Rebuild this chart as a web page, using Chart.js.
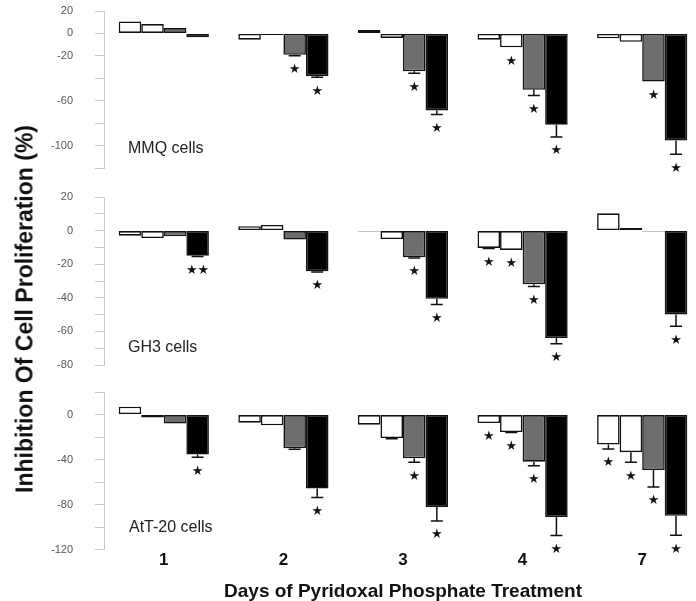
<!DOCTYPE html>
<html><head><meta charset="utf-8">
<script src="https://cdn.jsdelivr.net/npm/chart.js@4.4.1/dist/chart.umd.min.js"></script>
<style>
html,body{margin:0;padding:0;background:#fff;overflow:hidden;width:696px;height:601px;}
#wrap{position:relative;width:696px;height:601px;overflow:hidden;}
.pc{position:absolute;left:0;width:702px;}
.lbl{position:absolute;font-family:"Liberation Sans",Arial,sans-serif;font-size:16px;line-height:16px;color:#222;white-space:nowrap;}
#ytitle{position:absolute;left:25px;top:309px;transform:translate(-50%,-50%) rotate(-90deg);font:bold 23px "Liberation Sans",Arial,sans-serif;white-space:nowrap;color:#111;}
</style></head>
<body><div id="wrap">
<div class="pc" style="top:0;height:178px"><canvas id="c1" width="702" height="178"></canvas></div>
<div class="pc" style="top:185px;height:190px"><canvas id="c2" width="702" height="190"></canvas></div>
<div class="pc" style="top:380px;height:226px"><canvas id="c3" width="702" height="226"></canvas></div>
<div class="lbl" style="left:128px;top:140px">MMQ cells</div>
<div class="lbl" style="left:128px;top:339px">GH3 cells</div>
<div class="lbl" style="left:129px;top:519px">AtT-20 cells</div>
<div id="ytitle">Inhibition Of Cell Proliferation (%)</div>
</div>
<script>
// Categories
const days = ['1', '2', '3', '4', '7'];
const xTitle = 'Days of Pyridoxal Phosphate Treatment';

// MMQ cells: four series per day (white, white, gray, black)
const mmqA = [10.7, -5.6, 3, -5.6, -4.4];
const mmqB = [8.3, -1.5, -4, -12.4, -7.4];
const mmqC = [4.8, -19, -33.8, -50.3, -42.9];
const mmqD = [-3.5, -38, -68.7, -81.4, -95.4];
const mmqErrA = [0, 0, 0, 0, 0];
const mmqErrB = [0, 0, 0, 0, 0];
const mmqErrC = [0, 0.8, 1.8, 5.1, 0];
const mmqErrD = [0, 1, 3.6, 11, 12.4];
const mmqSigA = [0, 0, 0, 0, 0];
const mmqSigB = [0, 0, 0, 1, 0];
const mmqSigC = [0, 1, 1, 1, 1];
const mmqSigD = [0, 1, 1, 1, 1];
const mmqTicks = [20, 0, -20, -60, -100];

// GH3 cells
const gh3A = [-3, 2.6, -0.5, -10.3, 10.3];
const gh3B = [-4.4, 3.4, -5, -11.5, 1.6];
const gh3C = [-3.4, -5.3, -15.8, -32, -0.5];
const gh3D = [-14.9, -24.2, -40.6, -64, -49.9];
const gh3ErrA = [0, 0, 0, 0.3, 0];
const gh3ErrB = [0, 0, 0, 0, 0];
const gh3ErrC = [0, 0, 0.5, 1.2, 0];
const gh3ErrD = [0.5, 0.5, 3.4, 3.4, 7];
const gh3SigA = [0, 0, 0, 1, 0];
const gh3SigB = [0, 0, 0, 1, 0];
const gh3SigC = [0, 0, 1, 1, 0];
const gh3SigD = [2, 1, 1, 1, 1];
const gh3Ticks = [20, 0, -20, -40, -60, -80];

// AtT-20 cells
const attA = [6.9, -7.2, -9, -7.5, -26.6];
const attB = [-2.7, -9.6, -20.9, -15.5, -33.4];
const attC = [-8, -29.9, -38.8, -41.8, -49.3];
const attD = [-35.5, -65.7, -82, -91, -89.8];
const attErrA = [0, 0, 0, 0, 3.9];
const attErrB = [0, 0, 0.6, 0.5, 9];
const attErrC = [0, 0.8, 3.6, 3.6, 15];
const attErrD = [2.4, 8, 12.5, 16.4, 17.3];
const attSigA = [0, 0, 0, 1, 1];
const attSigB = [0, 0, 0, 1, 1];
const attSigC = [0, 0, 1, 1, 1];
const attSigD = [1, 1, 1, 1, 1];
const attTicks = [0, -40, -80, -120];

const fills = ['#ffffff', '#ffffff', '#6e6e6e', '#000000'];

function makeAnnot(errs, sigs) {
  return {
    id: 'annot',
    afterDatasetsDraw(chart) {
      const ctx = chart.ctx;
      const ys = chart.scales.y;
      chart.data.datasets.forEach((ds, i) => {
        const meta = chart.getDatasetMeta(i);
        meta.data.forEach((bar, j) => {
          const v = ds.data[j];
          const e = errs[i][j];
          const dir = v < 0 ? -1 : 1;
          let endY = bar.y;
          if (e > 0) {
            const ey = ys.getPixelForValue(v + dir * e);
            ctx.save();
            ctx.strokeStyle = '#111';
            ctx.lineWidth = 1.5;
            ctx.beginPath();
            ctx.moveTo(bar.x, bar.y);
            ctx.lineTo(bar.x, ey);
            ctx.moveTo(bar.x - 6, ey);
            ctx.lineTo(bar.x + 6, ey);
            ctx.stroke();
            ctx.restore();
            endY = ey;
          }
          const s = sigs[i][j];
          if (s) {
            ctx.save();
            ctx.fillStyle = '#111';
            ctx.font = '13px "DejaVu Sans"';
            ctx.textAlign = 'center';
            ctx.textBaseline = 'middle';
            ctx.fillText('\u2605'.repeat(s), bar.x, endY - dir * 14);
            ctx.restore();
          }
        });
      });
    }
  };
}

function makeChart(id, series, errs, sigs, yMin, yMax, step, labelSet, showX, padTop, padBottom) {
  const datasets = series.map((d, i) => ({
    data: d,
    backgroundColor: fills[i],
    borderColor: '#111',
    borderWidth: 1.6,
    borderSkipped: false,
    categoryPercentage: 0.754,
    barPercentage: 1.0
  }));
  return new Chart(document.getElementById(id), {
    type: 'bar',
    data: { labels: days, datasets },
    options: {
      responsive: false,
      animation: false,
      layout: { padding: { left: 0, right: 0, top: padTop, bottom: padBottom } },
      plugins: { legend: { display: false }, tooltip: { enabled: false } },
      scales: {
        x: {
          display: showX,
          grid: { display: false, drawTicks: false },
          border: { display: false },
          ticks: { color: '#111', padding: 0, font: { family: 'Liberation Sans', size: 17, weight: 'bold' } },
          title: { display: showX, text: xTitle, color: '#111', padding: { top: 10, bottom: 0 },
                   font: { family: 'Liberation Sans', size: 19, weight: 'bold' } }
        },
        y: {
          min: yMin, max: yMax,
          afterFit: s => { s.width = 104; s.paddingTop = 7; s.paddingBottom = 7; },
          grid: { drawOnChartArea: false, tickLength: 9, color: '#c8c8c8', lineWidth: 1 },
          border: { color: '#c8c8c8', width: 1 },
          ticks: {
            stepSize: step, autoSkip: false, padding: 22, color: '#555',
            font: { family: 'Liberation Sans', size: 11 },
            callback: v => labelSet.includes(v) ? String(v) : ''
          }
        }
      }
    },
    plugins: [makeAnnot(errs, sigs)]
  });
}

makeChart('c1', [mmqA, mmqB, mmqC, mmqD], [mmqErrA, mmqErrB, mmqErrC, mmqErrD],
  [mmqSigA, mmqSigB, mmqSigC, mmqSigD], -120, 20, 20, mmqTicks, false, 11, 10);
makeChart('c2', [gh3A, gh3B, gh3C, gh3D], [gh3ErrA, gh3ErrB, gh3ErrC, gh3ErrD],
  [gh3SigA, gh3SigB, gh3SigC, gh3SigD], -80, 20, 10, gh3Ticks, false, 12, 10);
makeChart('c3', [attA, attB, attC, attD], [attErrA, attErrB, attErrC, attErrD],
  [attSigA, attSigB, attSigC, attSigD], -120, 20, 20, attTicks, true, 12, 3);
</script>
</body></html>
